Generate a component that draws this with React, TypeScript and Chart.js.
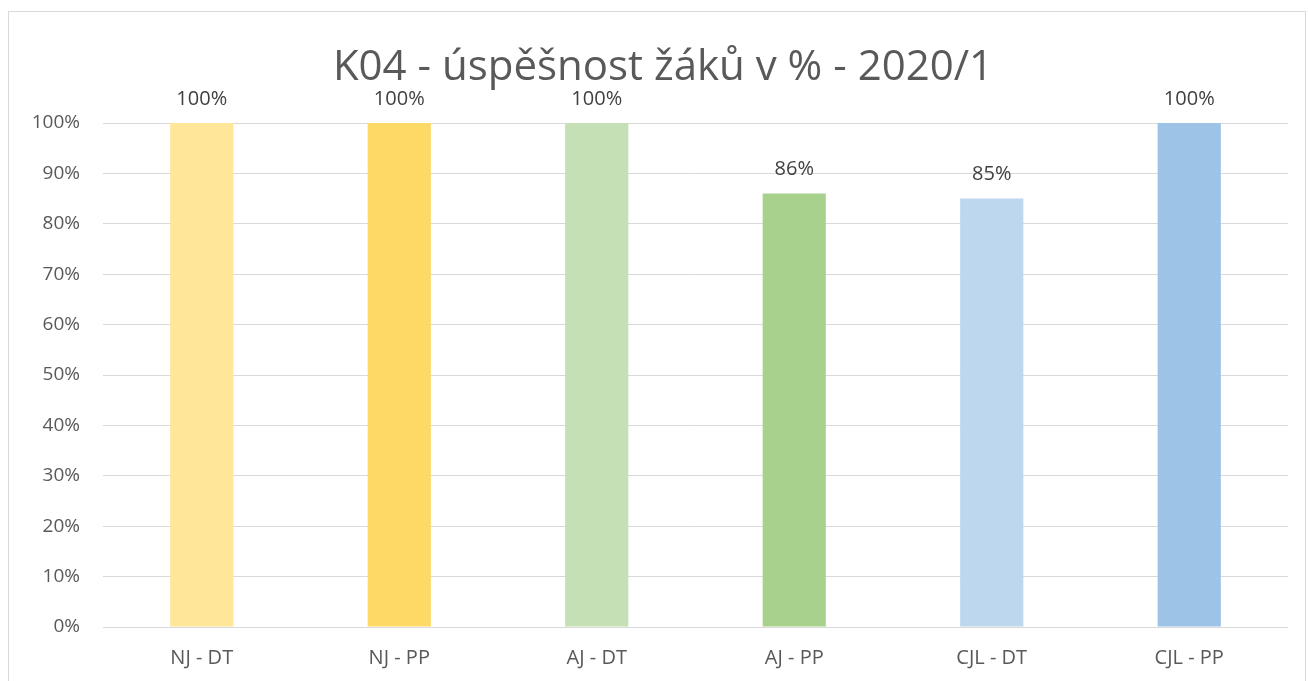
import React, { useEffect, useRef } from "react";
import { Chart, registerables } from "chart.js";

Chart.register(...registerables);

const TITLE = "K04 - úspěšnost žáků v % - 2020/1";
const categories = ["NJ - DT", "NJ - PP", "AJ - DT", "AJ - PP", "CJL - DT", "CJL - PP"];
const values = [100, 100, 100, 86, 85, 100];
const barColors = ["#FFE699", "#FFD966", "#C5E0B4", "#A9D18E", "#BDD7EE", "#9DC3E6"];
const yTicks = [0, 10, 20, 30, 40, 50, 60, 70, 80, 90, 100];

const FONT = "'Open Sans', 'Noto Sans', sans-serif";

const overlayPlugin = {
  id: "overlay",
  afterDatasetsDraw(chart: any) {
    const ctx = chart.ctx;
    ctx.save();
    ctx.fillStyle = "#595959";
    ctx.font = `42px ${FONT}`;
    ctx.textAlign = "center";
    ctx.textBaseline = "alphabetic";
    ctx.fillText(TITLE, 654, 68);
    const meta = chart.getDatasetMeta(0);
    ctx.fillStyle = "#404040";
    ctx.font = `20px ${FONT}`;
    ctx.textBaseline = "middle";
    meta.data.forEach((bar: any, i: number) => {
      ctx.fillText(values[i] + "%", bar.x, bar.y - 24);
    });
    ctx.restore();
  },
};

export default function App() {
  const ref = useRef<HTMLCanvasElement>(null);
  useEffect(() => {
    const chart = new Chart(ref.current!, {
      type: "bar",
      data: {
        labels: categories,
        datasets: [
          {
            data: values,
            backgroundColor: barColors,
            borderWidth: 0,
            barPercentage: 0.32,
            categoryPercentage: 1,
          },
        ],
      },
      options: {
        animation: false,
        responsive: false,
        layout: { padding: { top: 111, right: 17, left: 0, bottom: 0 } },
        plugins: { legend: { display: false }, tooltip: { enabled: false } },
        scales: {
          x: {
            grid: { display: false, drawTicks: false },
            border: { display: false },
            ticks: { color: "#595959", font: { family: FONT, size: 20 }, padding: 19 },
            afterFit: (s: any) => { s.height = 54; },
          },
          y: {
            min: 0,
            max: 100,
            afterBuildTicks: (s: any) => { s.ticks = yTicks.map((v) => ({ value: v })); },
            grid: { color: "#D9D9D9", lineWidth: 1, drawTicks: false },
            border: { display: false },
            ticks: {
              color: "#595959",
              font: { family: FONT, size: 19 },
              padding: 23,
              callback: (v: any) => v + "%",
            },
            afterFit: (s: any) => { s.width = 94; },
          },
        },
      },
      plugins: [overlayPlugin],
    });
    return () => chart.destroy();
  }, []);
  return (
    <div
      style={{
        position: "absolute",
        left: 8,
        top: 11,
        width: 1298,
        height: 680,
        border: "1px solid #D9D9D9",
        background: "#fff",
        boxSizing: "border-box",
        overflow: "hidden",
      }}
    >
      <canvas ref={ref} width={1296} height={669} style={{ display: "block" }} />
    </div>
  );
}
